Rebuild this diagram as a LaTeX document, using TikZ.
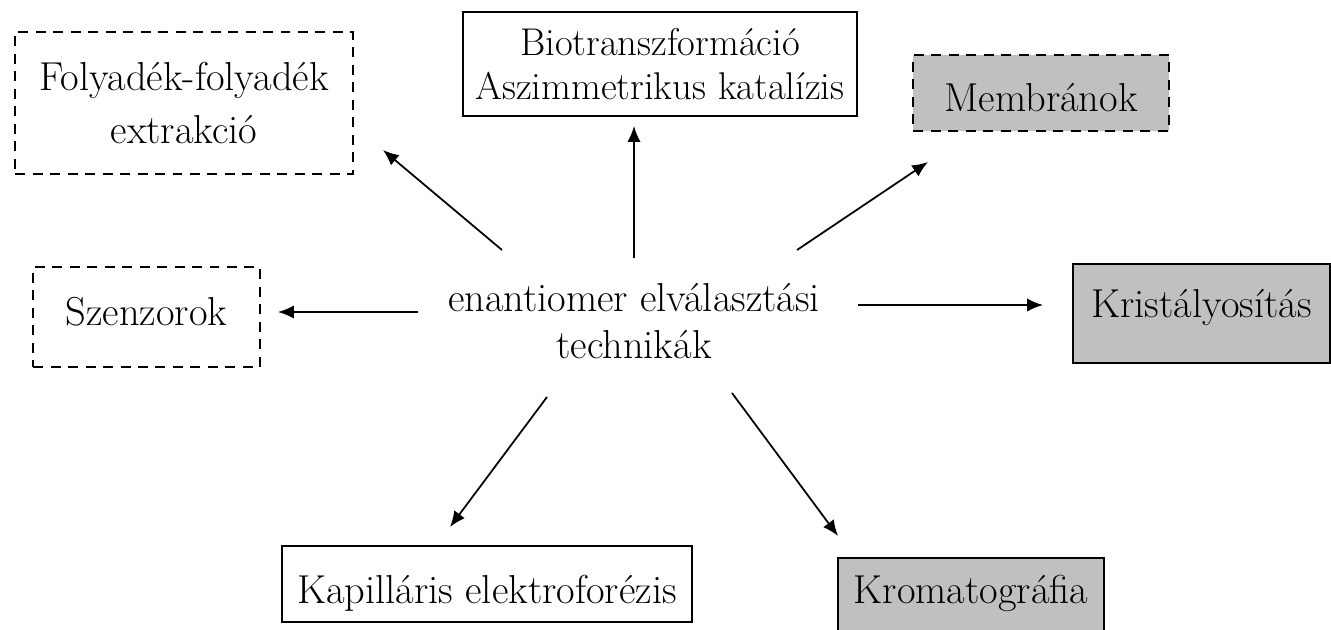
\documentclass[tikz,border=0pt]{standalone}
\usepackage{fontspec}
\usetikzlibrary{arrows.meta}
\definecolor{shade}{HTML}{C0C0C0}
\begin{document}
\begin{tikzpicture}[x=0.02cm,y=-0.02cm,
  every node/.style={font=\fontsize{23}{27}\selectfont},
  box/.style={draw,line width=1.2pt,inner sep=0pt},
  dbox/.style={box,dash pattern=on 0.2cm off 0.15cm},
  grey/.style={fill=shade},
  arr/.style={-{Latex[length=9pt,width=7.5pt]},line width=1pt}]
\useasboundingbox (0,0) rectangle (1331,629);
% boxes round the centre
\node[dbox,align=center,minimum width=6.76cm,minimum height=2.84cm,font=\fontsize{23}{30}\selectfont] (folyadek) at (184,103) {Folyadék-folyadék\\extrakció};
\node[box,align=center,minimum width=7.88cm,minimum height=2.08cm,font=\fontsize{22}{25}\selectfont] (bio) at (660,64) {Biotranszformáció\\Aszimmetrikus katalízis};
\node[dbox,grey,minimum width=5.12cm,text height=1.12cm,text depth=0.4cm,anchor=base] (membran) at (1041,111) {Membránok};
\node[dbox,minimum width=4.54cm,text height=1.16cm,text depth=0.84cm,anchor=base] (szenzor) at (146.5,325) {Szenzorok};
\node[box,grey,minimum width=5.14cm,text height=1.06cm,text depth=0.92cm,anchor=base] (krist) at (1201.5,317) {Kristályosítás};
\node[box,minimum width=8.2cm,text height=1.14cm,text depth=0.38cm,anchor=base] (kapill) at (487,603) {Kapilláris elektroforézis};
\node[box,grey,minimum width=5.32cm,text height=0.9cm,text depth=0.74cm,anchor=base] (kromat) at (971,603) {Kromatográfia};
% centre
\node[align=center] (tech) at (634,321) {enantiomer elválasztási\\technikák};
% arrow ends
\coordinate (t-folyadek) at (502,250); \coordinate (h-folyadek) at (383,150);
\coordinate (t-bio) at (634,258);      \coordinate (h-bio) at (634,126);
\coordinate (t-membran) at (797,250);  \coordinate (h-membran) at (928,162);
\coordinate (t-szenzor) at (418,312);  \coordinate (h-szenzor) at (278,312);
\coordinate (t-krist) at (858,305);    \coordinate (h-krist) at (1043,305);
\coordinate (t-kapill) at (547,397);   \coordinate (h-kapill) at (450,527);
\coordinate (t-kromat) at (732,393);   \coordinate (h-kromat) at (838,536);
\draw[arr] (t-folyadek) -- (h-folyadek);
\draw[arr] (t-bio) -- (h-bio);
\draw[arr] (t-membran) -- (h-membran);
\draw[arr] (t-szenzor) -- (h-szenzor);
\draw[arr] (t-krist) -- (h-krist);
\draw[arr] (t-kapill) -- (h-kapill);
\draw[arr] (t-kromat) -- (h-kromat);
\end{tikzpicture}
\end{document}
